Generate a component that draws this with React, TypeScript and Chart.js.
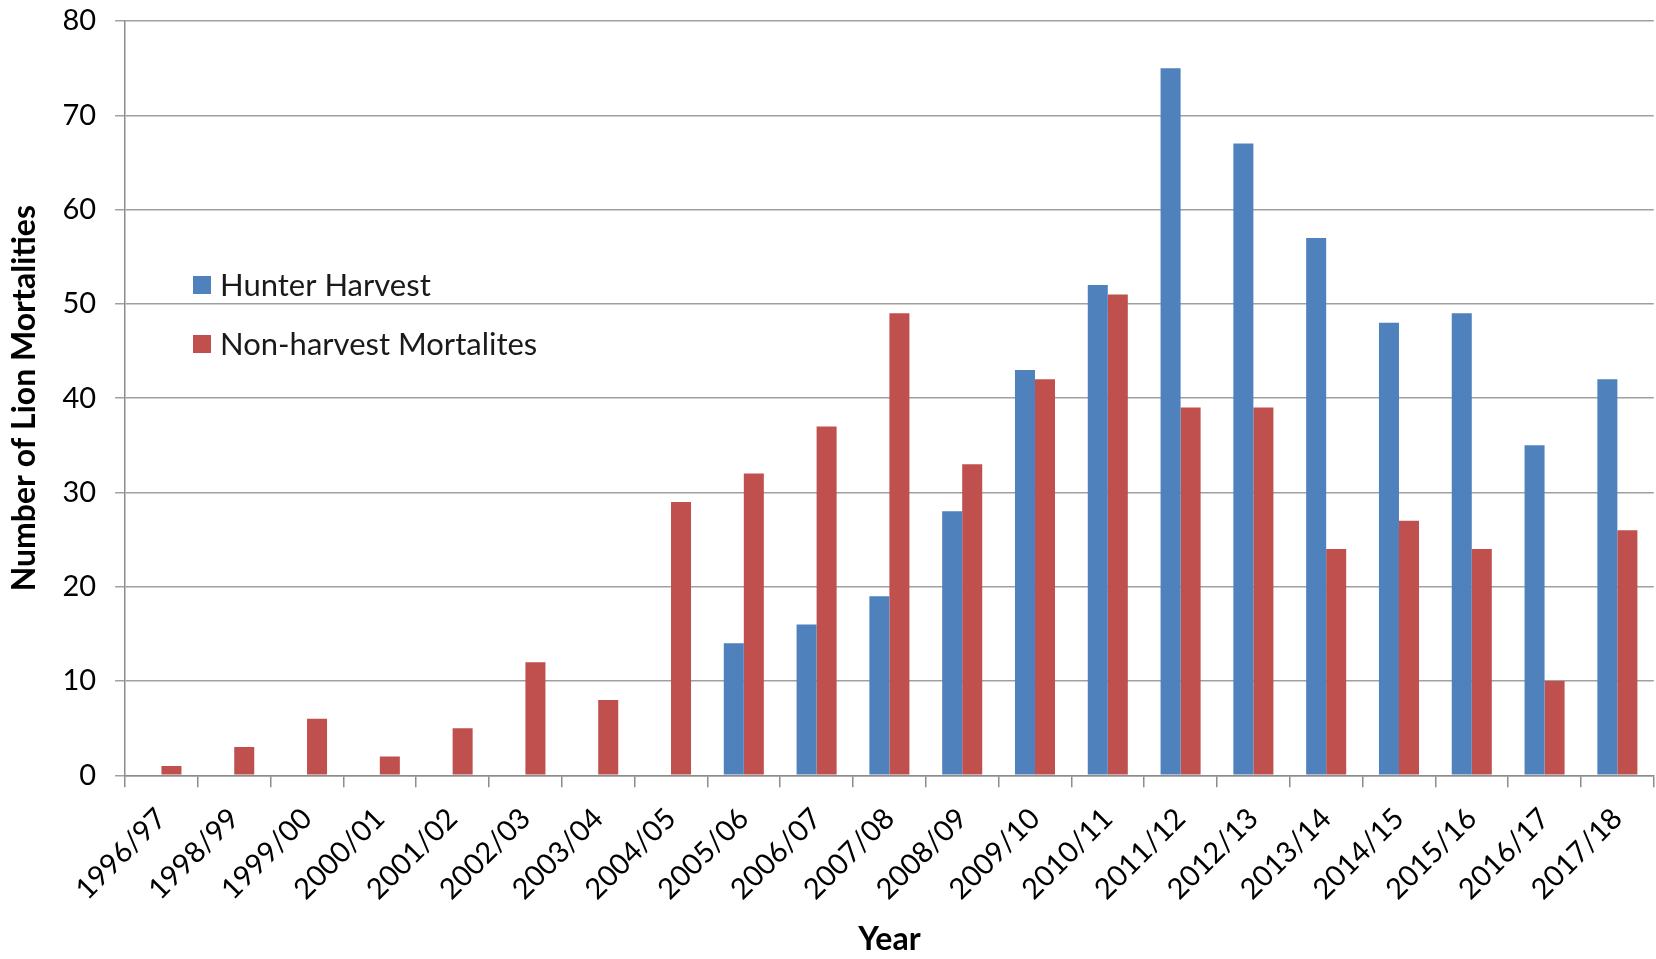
import React, { useEffect, useRef } from "react";
import { Chart, registerables } from "chart.js";

Chart.register(...registerables);

const categories = [
  "1996/97", "1998/99", "1999/00", "2000/01", "2001/02", "2002/03", "2003/04",
  "2004/05", "2005/06", "2006/07", "2007/08", "2008/09", "2009/10", "2010/11",
  "2011/12", "2012/13", "2013/14", "2014/15", "2015/16", "2016/17", "2017/18",
];
const hunterHarvest = [0, 0, 0, 0, 0, 0, 0, 0, 14, 16, 19, 28, 43, 52, 75, 67, 57, 48, 49, 35, 42];
const nonHarvest = [1, 3, 6, 2, 5, 12, 8, 29, 32, 37, 49, 33, 42, 51, 39, 39, 24, 27, 24, 10, 26];
const seriesNames = ["Hunter Harvest", "Non-harvest Mortalites"];
const seriesColors = ["#4F81BD", "#C0504D"];
const yTitle = "Number of Lion Mortalities";
const xTitle = "Year";

const FONT = "Lato, 'Liberation Sans', sans-serif";

const insideLegend = {
  id: "insideLegend",
  afterDraw(chart: any) {
    const ctx = chart.ctx;
    ctx.save();
    ctx.font = `31px ${FONT}`;
    ctx.textBaseline = "middle";
    chart.data.datasets.forEach((ds: any, i: number) => {
      const y = 285 + i * 59;
      ctx.fillStyle = ds.backgroundColor;
      ctx.fillRect(193, y - 9, 18, 18);
      ctx.fillStyle = "#1a1a1a";
      ctx.fillText(ds.label, 220, y + 1);
    });
    ctx.restore();
  },
};

export default function App() {
  const ref = useRef<HTMLCanvasElement>(null);
  useEffect(() => {
    document.body.style.margin = "0";
    const chart = new Chart(ref.current!, {
      type: "bar",
      data: {
        labels: categories,
        datasets: [
          { label: seriesNames[0], data: hunterHarvest, backgroundColor: seriesColors[0] },
          { label: seriesNames[1], data: nonHarvest, backgroundColor: seriesColors[1] },
        ],
      },
      plugins: [insideLegend],
      options: {
        animation: false,
        responsive: false,
        maintainAspectRatio: false,
        layout: { padding: { top: 2, right: 1, left: 5, bottom: 0 } },
        datasets: { bar: { categoryPercentage: 0.55, barPercentage: 1.0 } },
        plugins: {
          legend: { display: false },
          tooltip: { enabled: false },
        },
        scales: {
          x: {
            grid: {
              offset: true,
              drawOnChartArea: false,
              drawTicks: true,
              tickLength: 12,
              color: "#8c8c8c",
              lineWidth: 1.5,
            },
            border: { display: true, color: "#8c8c8c", width: 1.5 },
            ticks: {
              color: "#000",
              font: { family: FONT, size: 29 },
              maxRotation: 45,
              minRotation: 45,
              autoSkip: false,
              padding: 14,
            },
            title: {
              display: true,
              text: xTitle,
              color: "#000",
              font: { family: FONT, size: 32, weight: "bold" },
              padding: { top: 0, bottom: 0 },
            },
          },
          y: {
            min: 0,
            max: 80,
            afterFit: (scale: any) => {
              scale.paddingTop = 21;
            },
            ticks: {
              stepSize: 10,
              color: "#000",
              font: { family: FONT, size: 29 },
              padding: 19,
            },
            grid: {
              color: "#a0a0a0",
              lineWidth: 1.5,
              drawTicks: true,
              tickLength: 10,
            },
            border: { display: true, color: "#8c8c8c", width: 1.5 },
            title: {
              display: true,
              text: yTitle,
              color: "#000",
              font: { family: FONT, size: 32, weight: "bold" },
              padding: { top: 0, bottom: 0 },
            },
          },
        },
      },
    });
    return () => chart.destroy();
  }, []);
  return (
    <div style={{ position: "fixed", left: 0, top: 0, width: 1656, height: 959, background: "#fff" }}>
      <canvas ref={ref} width={1656} height={959} style={{ width: 1656, height: 959 }} />
    </div>
  );
}
